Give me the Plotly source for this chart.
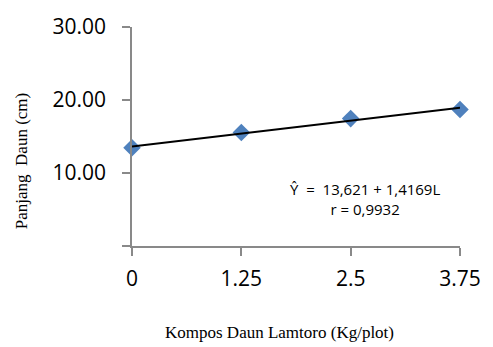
import plotly.graph_objects as go

# Data
dose = [0, 1.25, 2.5, 3.75]
leaf_length = [13.45, 15.55, 17.45, 18.7]
intercept = 13.621
slope = 1.4169
y_tickvals = [0, 10, 20, 30]
y_ticktext = ["", "10.00", "20.00", "30.00"]
x_tickvals = [0, 1.25, 2.5, 3.75]
x_ticktext = ["0", "1.25", "2.5", "3.75"]

trend_x = [dose[0], dose[-1]]
trend_y = [intercept + slope * v for v in trend_x]

fig = go.Figure()
fig.add_trace(go.Scatter(
    x=dose, y=leaf_length, mode="markers",
    marker=dict(symbol="diamond", size=13.5, color="#4F81BD", line=dict(width=0)),
    showlegend=False, cliponaxis=False,
))
fig.add_trace(go.Scatter(
    x=trend_x, y=trend_y, mode="lines",
    line=dict(color="black", width=2),
    showlegend=False, cliponaxis=False,
))

axis_color = "#898989"
tick_font = dict(family="Open Sans", size=21, color="black")

fig.update_layout(
    width=493, height=347,
    margin=dict(l=131.7, r=24, t=19, b=101.3),
    paper_bgcolor="white", plot_bgcolor="white",
    xaxis=dict(
        range=[0, 3.75], tickvals=x_tickvals, ticktext=x_ticktext,
        showgrid=False, zeroline=False, showline=True, linecolor=axis_color, linewidth=1.5,
        ticks="outside", ticklen=8, tickcolor=axis_color, tickwidth=1.5,
        tickfont=tick_font, ticklabelstandoff=5,
    ),
    yaxis=dict(
        range=[0, 30], tickvals=y_tickvals, ticktext=y_ticktext,
        showgrid=False, zeroline=False, showline=True, linecolor=axis_color, linewidth=1.5,
        ticks="outside", ticklen=8, tickcolor=axis_color, tickwidth=1.5,
        tickfont=tick_font, ticklabelstandoff=12,
    ),
    annotations=[
        dict(text="Panjang\u00a0\u00a0Daun (cm)", xref="paper", yref="paper",
             x=-0.3386, y=0.387, textangle=-90, showarrow=False,
             font=dict(family="Liberation Serif", size=17, color="black"),
             xanchor="center", yanchor="middle"),
        dict(text="Kompos Daun Lamtoro (Kg/plot)", xref="paper", yref="paper",
             x=0.449, y=-0.394, showarrow=False,
             font=dict(family="Liberation Serif", size=17, color="black"),
             xanchor="center", yanchor="middle"),
        dict(text="Ŷ\u00a0\u00a0=\u00a0\u00a013,621 + 1,4169L<br>r = 0,9932", xref="paper", yref="paper",
             x=0.71, y=0.215, showarrow=False, align="center",
             font=dict(family="Open Sans", size=15, color="black"),
             xanchor="center", yanchor="middle"),
    ],
)

fig.write_html("out.html")
